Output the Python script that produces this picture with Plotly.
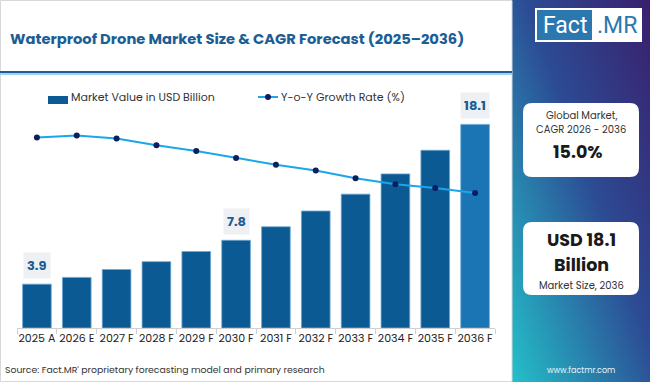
import base64
import plotly.graph_objects as go

categories = ["2025 A", "2026 E", "2027 F", "2028 F", "2029 F", "2030 F",
              "2031 F", "2032 F", "2033 F", "2034 F", "2035 F", "2036 F"]
market_value = [3.9, 4.5, 5.2, 5.9, 6.8, 7.8, 9.0, 10.4, 11.9, 13.7, 15.8, 18.1]
yoy_growth = [19.6, 19.8, 19.5, 18.8, 18.2, 17.5, 16.8, 16.2, 15.4, 14.8, 14.4, 13.9]
labelled = {"2025 A": "3.9", "2030 F": "7.8", "2036 F": "18.1"}

W, H = 650, 382
L, R, T, B = 17, 155, 85, 54
PW, PH = W - L - R, H - T - B

def px(x):
    return (x - L) / PW

def py(y):
    return 1 - (y - T) / PH

FONT = "Poppins, Inter, Open Sans, sans-serif"
DARK = "#0b5a93"
LIGHT = "#1b74b3"
LINE = "#1ba6ea"
NAVY = "#0b1f5e"
TXT_BLUE = "#1b5d94"

bar_colors = [DARK] * (len(categories) - 1) + [LIGHT]

fig = go.Figure()
fig.add_trace(go.Bar(
    x=categories, y=market_value, marker=dict(color=bar_colors, line=dict(color="#6fa9d6", width=0.8)),
    width=0.72, showlegend=False, hoverinfo="skip"))
fig.add_trace(go.Scatter(
    x=categories, y=yoy_growth, yaxis="y2", mode="lines+markers",
    line=dict(color=LINE, width=2), marker=dict(color=NAVY, size=6),
    showlegend=False, hoverinfo="skip"))

annotations = []
for c, v in zip(categories, market_value):
    if c in labelled:
        annotations.append(dict(
            x=c, y=v, xref="x", yref="y", text="<b>%s</b>" % labelled[c], showarrow=False,
            yanchor="bottom", yshift=5, font=dict(family=FONT, size=13, color=TXT_BLUE),
            bgcolor="#eef0f3", borderpad=3))

shapes = []
svg = ('<svg xmlns="http://www.w3.org/2000/svg" width="138" height="382">'
       '<defs><linearGradient id="g" x1="1" y1="0" x2="0" y2="1">'
       '<stop offset="0" stop-color="#3a1f6c"/><stop offset="0.45" stop-color="#2c4b94"/>'
       '<stop offset="1" stop-color="#24c0c9"/></linearGradient></defs>'
       '<rect width="138" height="382" fill="url(#g)"/></svg>')
src = "data:image/svg+xml;base64," + base64.b64encode(svg.encode()).decode()
images = [dict(source=src, xref="paper", yref="paper", x=px(512), y=py(0),
               sizex=(650 - 512) / PW, sizey=382 / PH, xanchor="left", yanchor="top",
               sizing="stretch", layer="below")]

shapes.append(dict(type="rect", xref="paper", yref="paper", x0=px(0), x1=px(512),
                   y0=py(73), y1=py(71), fillcolor="#1b5d94", line=dict(width=0)))
shapes.append(dict(type="rect", xref="paper", yref="paper", x0=px(0), x1=px(512),
                   y0=py(75), y1=py(73), fillcolor="#9fd3f2", line=dict(width=0)))
shapes.append(dict(type="rect", xref="paper", yref="paper", x0=px(0.5), x1=px(512),
                   y0=py(381.5), y1=py(0.5), line=dict(color="#d8d8d8", width=1), layer="below"))

def rrect(x0, y0, x1, y1, r):
    X0, X1 = px(x0), px(x1)
    Y0, Y1 = py(y0), py(y1)
    rx, ry = r / PW, r / PH
    return ("M %f,%f L %f,%f Q %f,%f %f,%f L %f,%f Q %f,%f %f,%f L %f,%f Q %f,%f %f,%f "
            "L %f,%f Q %f,%f %f,%f Z") % (
        X0 + rx, Y0, X1 - rx, Y0, X1, Y0, X1, Y0 - ry, X1, Y1 + ry, X1, Y1, X1 - rx, Y1,
        X0 + rx, Y1, X0, Y1, X0, Y1 + ry, X0, Y0 - ry, X0, Y0, X0 + rx, Y0)

shapes.append(dict(type="path", xref="paper", yref="paper", path=rrect(523, 103, 639, 177, 9),
                   fillcolor="white", line=dict(width=0)))
shapes.append(dict(type="path", xref="paper", yref="paper", path=rrect(523, 222, 639, 295, 9),
                   fillcolor="white", line=dict(width=0)))

# logo
shapes.append(dict(type="rect", xref="paper", yref="paper", x0=px(535), x1=px(642),
                   y0=py(42), y1=py(8), fillcolor="white", line=dict(width=0)))
shapes.append(dict(type="rect", xref="paper", yref="paper", x0=px(537), x1=px(592),
                   y0=py(40), y1=py(10), fillcolor="#2b78b0", line=dict(width=0)))

def txt(x, y, s, size, color="#222", bold=False, anchor="center", family=FONT):
    annotations.append(dict(x=px(x), y=py(y), xref="paper", yref="paper",
                            text=("<b>%s</b>" % s) if bold else s, showarrow=False,
                            xanchor=anchor, yanchor="middle",
                            font=dict(family=family, size=size, color=color)))

txt(564.5, 25, "Fact", 23, "white", family="Roboto, sans-serif")
txt(617, 25, ".MR", 23, "#2b78b0", family="Roboto, sans-serif")
txt(8, 39, "Waterproof Drone Market Size &amp; CAGR Forecast (2025–2036)", 14.7, TXT_BLUE, True, "left")
txt(581, 115, "Global Market,", 10, "#333")
txt(581, 129, "CAGR 2026 - 2036", 10, "#333")
txt(578, 152, "15.0%", 17.5, "#1a1a1a", True)
txt(581, 240, "USD 18.1", 17.5, "#1a1a1a", True)
txt(581, 265, "Billion", 17.5, "#1a1a1a", True)
txt(581, 285, "Market Size, 2036", 10, "#333")
txt(581, 370, "www.factmr.com", 8, "#e8f4f8")
txt(3, 369, "Source: Fact.MR' proprietary forecasting model and primary research", 9.3, "#333", False, "left")

# legend
shapes.append(dict(type="rect", xref="paper", yref="paper", x0=px(48), x1=px(68),
                   y0=py(104), y1=py(96), fillcolor=DARK, line=dict(width=0)))
txt(69, 97, "Market Value in USD Billion", 11, "#333", False, "left")
shapes.append(dict(type="line", xref="paper", yref="paper", x0=px(258), x1=px(278),
                   y0=py(97), y1=py(97), line=dict(color=LINE, width=2)))
shapes.append(dict(type="circle", xref="paper", yref="paper", x0=px(265), x1=px(271),
                   y0=py(100), y1=py(94), fillcolor=NAVY, line=dict(width=0)))
txt(279, 97, "Y-o-Y Growth Rate (%)", 11, "#333", False, "left")

fig.update_layout(
    width=W, height=H, margin=dict(l=L, r=R, t=T, b=B, autoexpand=False),
    paper_bgcolor="white", plot_bgcolor="white",
    xaxis=dict(range=[-0.5, 11.5], showline=True, linecolor="#d0d0d0", ticks="outside",
               tickson="boundaries", ticklen=5, tickcolor="#d0d0d0", showgrid=False,
               tickangle=0, automargin=False,
               tickfont=dict(family=FONT, size=11, color="#222"), fixedrange=True),
    yaxis=dict(range=[0, PH / 11.25], visible=False, showgrid=False, automargin=False),
    yaxis2=dict(range=[0, 25], overlaying="y", visible=False, showgrid=False, automargin=False),
    bargap=0.28, shapes=shapes, annotations=annotations, images=images,
)

fig.write_html("out.html", config={"displayModeBar": False},
               post_script="document.body.style.margin='0';document.body.style.overflow='hidden';")
